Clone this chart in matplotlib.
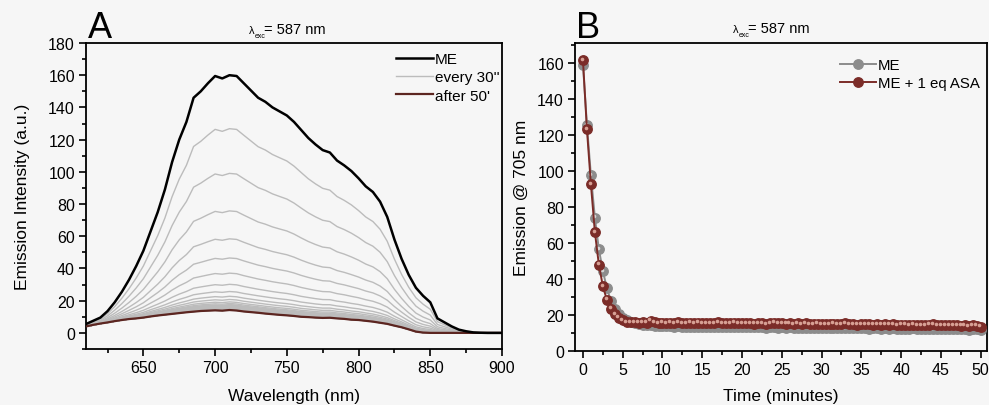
import numpy as np
import matplotlib
matplotlib.use("Agg")
import matplotlib.pyplot as plt
from matplotlib.ticker import MultipleLocator
from matplotlib.transforms import offset_copy

plt.rcParams['font.family'] = ['Liberation Sans', 'DejaVu Sans']
plt.rcParams['font.size'] = 11

# ---------------- Panel A: emission spectra ----------------
wavelength = np.arange(610, 901, 5)

me_spectrum = [
    5.5, 7.5, 9.5, 13.5, 19.0, 25.5, 33.0, 41.5, 51.0, 63.0,
    75.0, 89.0, 106.0, 120.0, 131.0, 146.0, 150.0, 155.0, 159.5, 158.0,
    160.0, 159.5, 155.0, 150.5, 146.0, 143.5, 140.0, 137.5, 135.0, 131.0,
    126.0, 121.0, 117.0, 113.5, 112.0, 107.0, 104.0, 100.5, 96.0, 91.0,
    87.5, 81.5, 72.0, 58.0, 46.0, 36.0, 28.0, 23.0, 19.0, 9.0,
    6.5, 4.0, 2.0, 1.0, 0.3, 0.1, 0.0, 0.0, 0.0,
]

final_spectrum = [
    4.0, 5.0, 5.8, 6.5, 7.3, 8.0, 8.6, 9.0, 9.5, 10.2,
    10.8, 11.3, 11.8, 12.3, 12.8, 13.2, 13.6, 13.8, 14.0, 13.8,
    14.2, 13.9, 13.3, 12.9, 12.5, 12.0, 11.6, 11.2, 10.9, 10.5,
    10.0, 9.8, 9.5, 9.3, 9.4, 9.0, 8.7, 8.2, 8.0, 7.5,
    7.0, 6.3, 5.6, 4.5, 3.5, 2.2, 0.8, 0.2, 0.0, 0.0,
    0.0, 0.0, 0.0, 0.0, 0.0, 0.0, 0.0, 0.0, 0.0,
]

# ---------------- Panel B: emission at 705 nm vs time ----------------
time_min = np.arange(0, 50.01, 0.5)

me_705 = [
    159.0, 125.5, 97.5, 74.0, 56.5, 44.5, 35.0, 28.0, 23.5, 20.5, 18.5, 17.0,
    16.0, 15.3, 14.8, 14.6, 14.3, 14.2, 14.0, 13.9, 13.8,
    13.7, 13.8, 13.6, 13.7, 13.5, 13.6, 13.4, 13.6, 13.5, 13.4,
    13.5, 13.3, 13.4, 13.6, 13.3, 13.4, 13.2, 13.4, 13.3, 13.2,
    13.3, 13.1, 13.2, 13.4, 13.1, 13.0, 13.2, 13.1, 13.0, 13.1,
    12.9, 13.1, 13.0, 12.8, 13.0, 12.9, 12.7, 12.9, 12.8, 12.7,
    12.8, 12.6, 12.9, 12.7, 12.6, 12.8, 12.5, 12.7, 12.6, 12.5,
    12.6, 12.4, 12.7, 12.5, 12.4, 12.6, 12.3, 12.5, 12.4, 12.3,
    12.4, 12.2, 12.5, 12.3, 12.2, 12.4, 12.1, 12.3, 12.2, 12.1,
    12.2, 12.0, 12.3, 12.1, 12.0, 12.2, 11.9, 12.1, 12.0, 11.9,
]

me_asa_705 = [
    161.5, 123.0, 92.5, 66.0, 48.0, 36.0, 28.5, 23.5, 20.5, 18.5, 17.0, 16.0,
    16.0, 16.2, 15.8, 16.0, 15.7, 16.8, 15.9, 15.6, 15.8,
    15.5, 15.7, 15.6, 15.9, 15.4, 15.6, 15.8, 15.5, 15.7, 15.4,
    15.6, 15.3, 15.5, 16.1, 15.6, 15.4, 15.5, 15.7, 15.3, 15.5,
    15.4, 15.6, 15.2, 15.5, 15.3, 15.1, 15.4, 15.8, 15.3, 15.4,
    15.2, 15.4, 15.1, 15.3, 15.0, 15.3, 15.1, 14.9, 15.2, 15.0,
    15.1, 14.9, 15.2, 14.8, 15.0, 15.4, 14.8, 15.0, 14.7, 14.9,
    14.8, 15.0, 14.6, 14.9, 14.7, 15.1, 14.6, 14.8, 14.5, 14.7,
    14.6, 14.4, 14.7, 14.3, 14.5, 14.2, 14.6, 14.8, 14.4, 14.5,
    14.3, 14.5, 14.2, 14.4, 14.1, 14.3, 14.0, 14.2, 14.1, 13.6,
]

BG = '#f6f6f6'
GREY_SPEC = '#bcbcbc'
RED = '#7b2c28'
GREY_PT = '#8c8c8c'

W, H = 989, 406
fig = plt.figure(figsize=(W / 100, H / 100), dpi=100, facecolor=BG)


def px_axes(l, t, r, b):
    return fig.add_axes([l / W, 1 - b / H, (r - l) / W, (b - t) / H])


def style_axes(ax):
    ax.set_facecolor(BG)
    for s in ax.spines.values():
        s.set_linewidth(1.3)
    ax.tick_params(which='both', direction='out', width=1.2, top=False, right=False,
                   labelsize=11.5, pad=3)
    ax.tick_params(which='major', length=5)
    ax.tick_params(which='minor', length=3)


# ---- Panel A ----
axA = px_axes(86, 44, 502, 350)
style_axes(axA)

me_arr = np.asarray(me_spectrum)
fin_arr = np.asarray(final_spectrum)
i0, i_end = me_705[0], me_705[-1]
# intermediate spectra recorded every 30 s, weighted by the 705 nm readings
for k in range(1, len(me_705) - 1):
    w = np.clip((me_705[k] - i_end) / (i0 - i_end), 0, 1)
    axA.plot(wavelength, fin_arr + w * (me_arr - fin_arr), color=GREY_SPEC, lw=1.0,
             zorder=2, label="every 30''" if k == 1 else None)
axA.plot(wavelength, me_arr, color='black', lw=1.8, zorder=4, label='ME')
axA.plot(wavelength, fin_arr, color='#5c2520', lw=1.6, zorder=3, label="after 50'")

axA.set_xlim(610, 900)
axA.set_ylim(-10, 180)
axA.xaxis.set_major_locator(MultipleLocator(50))
axA.xaxis.set_minor_locator(MultipleLocator(25))
axA.yaxis.set_major_locator(MultipleLocator(20))
axA.yaxis.set_minor_locator(MultipleLocator(10))
axA.set_xlabel('Wavelength (nm)', fontsize=12.5, labelpad=9)
axA.set_ylabel('Emission Intensity (a.u.)', fontsize=12.5, labelpad=13)

hA, lA = axA.get_legend_handles_labels()
order = [lA.index('ME'), lA.index("every 30''"), lA.index("after 50'")]
axA.legend([hA[i] for i in order], [lA[i] for i in order], loc='upper right',
           bbox_to_anchor=(1.02, 1.005), frameon=False, fontsize=11,
           handlelength=2.4, handletextpad=0.15, labelspacing=0.28, borderpad=0.2)

# ---- Panel B ----
axB = px_axes(575, 44, 987, 352)
style_axes(axB)


def ball_series(ax, x, y, color, highlight, label, z):
    ax.plot(x, y, '-o', color=color, lw=1.4, ms=6.8, mfc=color, mec=color,
            zorder=z, label=label)
    shift = offset_copy(ax.transData, fig=fig, x=-0.9, y=0.9, units='points')
    ax.plot(x, y, 'o', ms=2.6, color=highlight, mec='none', alpha=0.85,
            transform=shift, zorder=z + 0.5)


ball_series(axB, time_min, me_705, GREY_PT, '#e4e4e4', 'ME', 3)
ball_series(axB, time_min, me_asa_705, RED, '#e8b5a8', 'ME + 1 eq ASA', 5)

axB.set_xlim(-1, 50.8)
axB.set_ylim(0, 171)
axB.xaxis.set_major_locator(MultipleLocator(5))
axB.xaxis.set_minor_locator(MultipleLocator(2.5))
axB.yaxis.set_major_locator(MultipleLocator(20))
axB.yaxis.set_minor_locator(MultipleLocator(10))
axB.set_xlabel('Time (minutes)', fontsize=12.5, labelpad=8)
axB.set_ylabel('Emission @ 705 nm', fontsize=12.5, labelpad=6)
axB.legend(loc='upper right', bbox_to_anchor=(1.008, 0.985), frameon=False, fontsize=10.8,
           handlelength=2.4, handletextpad=0.15, labelspacing=0.28, borderpad=0.2,
           numpoints=1)

# ---- panel letters and excitation wavelength ----
fig.text(88 / W, 1 - 28 / H, 'A', fontsize=26, va='center', ha='left')
fig.text(576 / W, 1 - 28 / H, 'B', fontsize=26, va='center', ha='left')


def lambda_label(x_px, y_px):
    fig.text(x_px / W, 1 - y_px / H, 'λ', fontsize=8, va='baseline', ha='left')
    fig.text((x_px + 6) / W, 1 - (y_px + 4) / H, 'exc', fontsize=5, va='baseline', ha='left')
    fig.text((x_px + 15) / W, 1 - y_px / H, '= 587 nm', fontsize=10.5, va='baseline', ha='left')


lambda_label(249, 34)
lambda_label(733, 33)

fig.savefig('out.png', dpi=100, facecolor=BG)
